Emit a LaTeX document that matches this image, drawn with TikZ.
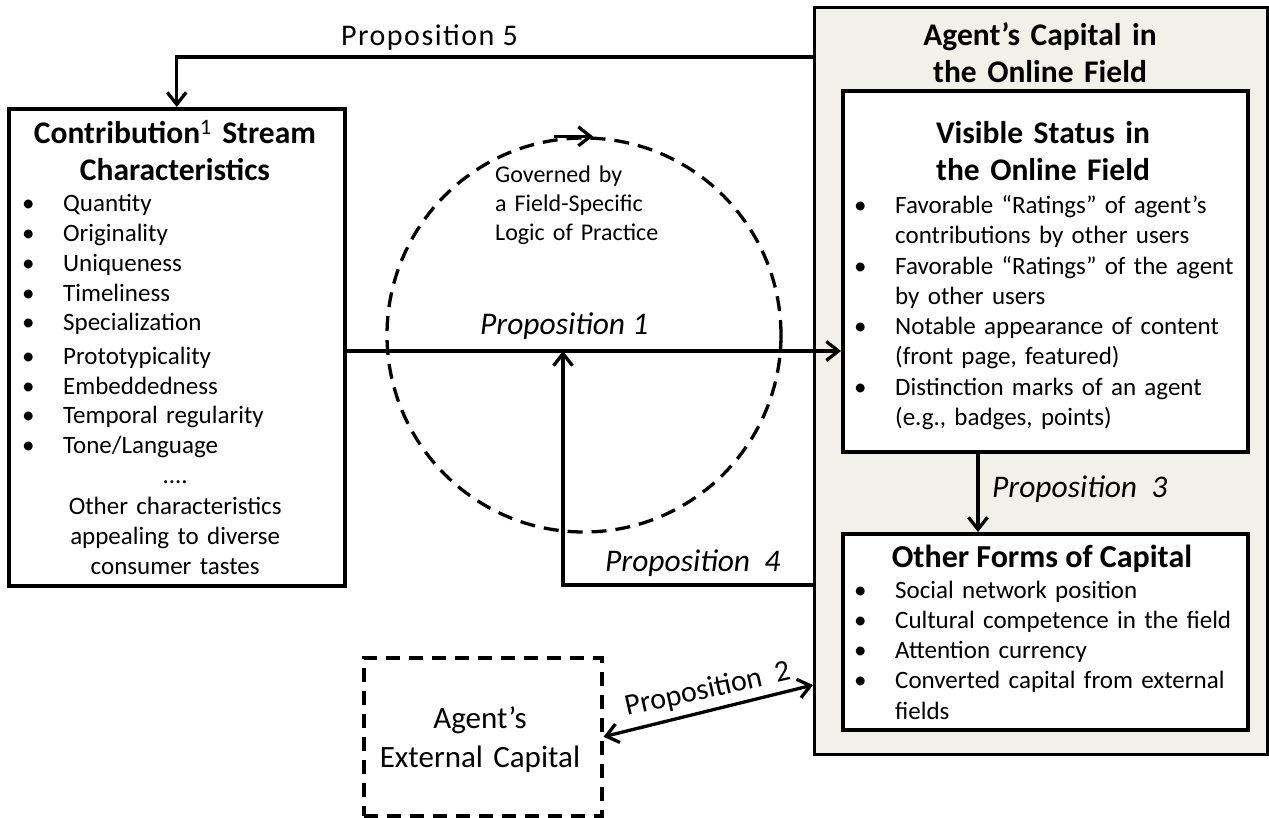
\documentclass[tikz,border=0pt]{standalone}
\usepackage{fontspec}
\setmainfont{Carlito}
\usetikzlibrary{arrows.meta}
\definecolor{panel}{RGB}{241,240,233}
\newcommand{\bl}[1]{\makebox[38pt][l]{\hspace*{-3pt}\textbullet}#1\par}
\newcommand{\cl}[1]{\hspace*{38pt}#1\par}
\begin{document}
\begin{tikzpicture}[x=1pt,y=-1pt,
  box/.style={draw, line width=3.5pt, fill=white, inner sep=0pt, anchor=north west},
  panelbox/.style={draw, line width=3pt, fill=panel, inner sep=0pt, anchor=north west},
  dbox/.style={draw, line width=3.5pt, dash pattern=on 14pt off 9pt, inner sep=0pt, anchor=north west},
  ttl/.style={anchor=north, inner sep=0pt, align=center, font=\bfseries\fontsize{31.5}{37}\selectfont},
  lst/.style={anchor=north west, inner sep=0pt, align=left},
  prop/.style={anchor=base west, inner sep=0pt, font=\fontsize{30}{36}\selectfont},
  iprop/.style={prop, font=\itshape\fontsize{31.5}{36}\selectfont},
  arr/.style={line width=3.3pt, -{Straight Barb[length=12pt,width=19pt]}},
  dblarr/.style={line width=3.3pt, {Straight Barb[length=12pt,width=19pt]}-{Straight Barb[length=12pt,width=19pt]}},
  ]
\useasboundingbox (0,0) rectangle (1269,817);

% panel
\node[panelbox, minimum width=453, minimum height=747] (capital) at (813,6) {};
\node[ttl, text width=420] (captitle) at (1040,19) {\strut Agent’s Capital in\\the Online Field};

% visible status
\node[box, minimum width=405, minimum height=361] (visible) at (841,89) {};
\node[ttl, text width=390] (vistitle) at (1043,117) {\strut Visible Status in\\the Online Field};
\node[lst, text width=400, font=\fontsize{25}{30.3}\selectfont] (vislist) at (857,192) {\strut
\bl{Favorable “Ratings” of agent’s}
\cl{contributions by other users}
\bl{Favorable “Ratings” of the agent}
\cl{by other users}
\bl{Notable appearance of content}
\cl{(front page, featured)}
\bl{Distinction marks of an agent}
\cl{(e.g., badges, points)}};

% other forms
\node[box, minimum width=405, minimum height=196] (other) at (841,532) {};
\node[anchor=base, inner sep=0pt, font=\bfseries\fontsize{32}{37}\selectfont] (othtitle) at (1042,567) {Other Forms of Capital};
\node[lst, text width=400, font=\fontsize{25}{30.2}\selectfont] (othlist) at (857,577) {\strut
\bl{Social network position}
\bl{Cultural competence in the field}
\bl{Attention currency}
\bl{Converted capital from external}
\cl{fields}};

% contribution box
\node[box, minimum width=336, minimum height=477] (contrib) at (7,107) {};
\node[ttl, text width=330] (contitle) at (175,117) {\strut Contribution\textsuperscript{\mdseries 1} Stream\\Characteristics};
\node[lst, text width=300, font=\fontsize{25}{29.7}\selectfont] (conlist) at (25,191) {\strut
\bl{Quantity}
\bl{Originality}
\bl{Uniqueness}
\bl{Timeliness}
\bl{Specialization}
\vspace{4pt}
\bl{Prototypicality}
\bl{Embeddedness}
\bl{Temporal regularity}
\bl{Tone/Language}
{\centering ....\par
\vspace{2pt}
Other characteristics\par
appealing to diverse\par
consumer tastes\par}};

% external capital
\node[dbox, minimum width=238, minimum height=158] (ext) at (362,656) {};
\node[anchor=north, inner sep=0pt, align=center, text width=230, font=\fontsize{31}{39}\selectfont] (exttext) at (480,701) {\strut Agent’s\\External Capital};

% logic of practice circle
\node[draw, circle, line width=3.3pt, dash pattern=on 15pt off 9pt, minimum size=394, inner sep=0pt] (cyc) at (584,335) {};
\draw[arr] ([xshift=-30pt]cyc.north) -- ([xshift=9pt]cyc.north);
\node[lst, text width=260, font=\fontsize{24}{29}\selectfont] (govern) at (495,162) {\strut Governed by\\a Field-Specific\\Logic of Practice};

% connectors
\coordinate (p1y) at (600,351);
\coordinate (p4) at (563,585);
\coordinate (p5) at (600,57);
\coordinate (p3x) at (978,500);
\coordinate (p2r) at (813,685);

\draw[arr] (p5 -| capital.west) -| (contrib.north);
\draw[arr] (p1y -| contrib.east) -- (p1y -| visible.west);
\draw[arr] (p4 -| capital.west) -- (p4) -- (p4 |- p1y);
\draw[arr] (p3x |- visible.south) -- (p3x |- other.north);
\draw[dblarr] (ext.east) -- (p2r -| capital.west);

% labels
\node[prop, font=\addfontfeatures{LetterSpace=5}\fontsize{30}{36}\selectfont] (l5) at (341,45) {Proposition 5};
\node[iprop] (l1) at (480,334) {Proposition 1};
\node[iprop] (l3) at (992,497) {Proposition\ \ 3};
\node[iprop] (l4) at (605,571) {Proposition\ \ 4};
\node[prop, rotate=12.5] (l2) at (627,716) {Proposition\ \ 2};
\end{tikzpicture}
\end{document}
